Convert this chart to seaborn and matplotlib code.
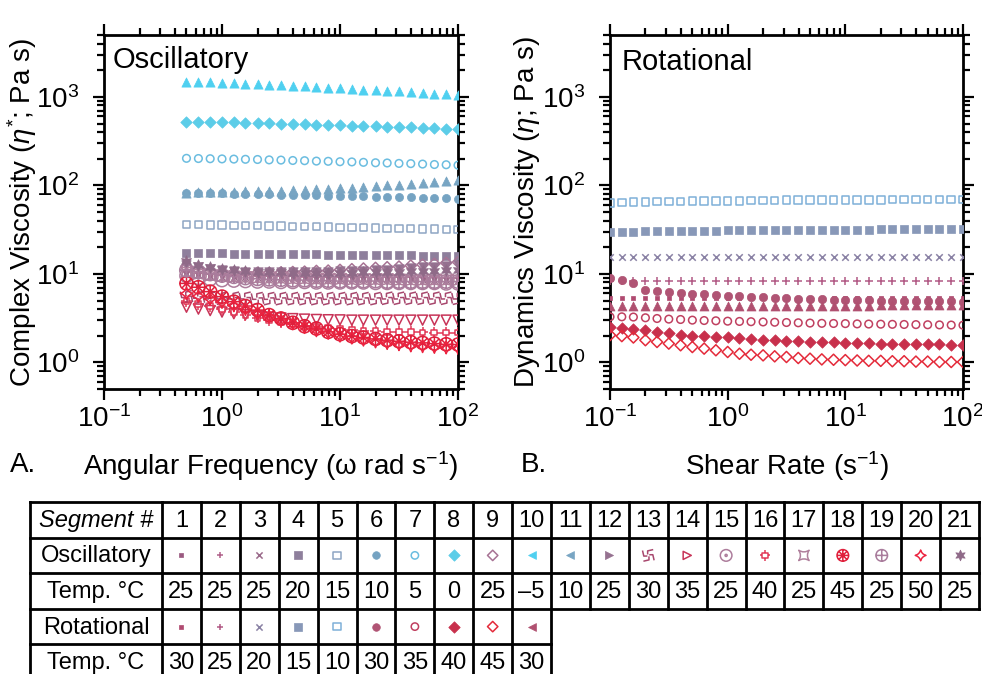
import numpy as np
import pandas as pd
import matplotlib
matplotlib.use("Agg")
import matplotlib.pyplot as plt
from matplotlib.path import Path
from matplotlib.ticker import LogLocator, NullFormatter
import seaborn as sns

# ---------------- data ----------------
omega = [0.5, 0.631, 0.794, 1.0, 1.26, 1.58, 2.0, 2.51, 3.16, 3.98, 5.01, 6.31,
         7.94, 10.0, 12.6, 15.8, 20.0, 25.1, 31.6, 39.8, 50.1, 63.1, 79.4, 100.0]
shear = [0.1, 0.126, 0.158, 0.2, 0.251, 0.316, 0.398, 0.501, 0.631, 0.794, 1.0,
         1.26, 1.58, 2.0, 2.51, 3.16, 3.98, 5.01, 6.31, 7.94, 10.0, 12.6, 15.8,
         20.0, 25.1, 31.6, 39.8, 50.1, 63.1, 79.4, 100.0]

osc_01 = [10.2, 9.9, 9.7, 9.6, 9.5, 9.4, 9.4, 9.3, 9.3, 9.2, 9.2, 9.2, 9.1, 9.1, 9.1, 9.0, 9.0, 9.0, 9.0, 9.0, 8.9, 8.9, 8.9, 8.9]
osc_02 = [10.5, 10.2, 10.0, 9.8, 9.7, 9.6, 9.5, 9.5, 9.4, 9.4, 9.3, 9.3, 9.3, 9.2, 9.2, 9.2, 9.2, 9.1, 9.1, 9.1, 9.1, 9.1, 9.0, 9.0]
osc_03 = [10.0, 9.7, 9.5, 9.3, 9.2, 9.1, 9.0, 9.0, 8.9, 8.9, 8.9, 8.8, 8.8, 8.8, 8.8, 8.7, 8.7, 8.7, 8.7, 8.7, 8.6, 8.6, 8.6, 8.6]
osc_04 = [17.2, 17.1, 17.0, 17.0, 16.9, 16.9, 16.8, 16.8, 16.7, 16.7, 16.6, 16.6, 16.5, 16.5, 16.4, 16.4, 16.3, 16.3, 16.2, 16.2, 16.1, 16.0, 16.0, 15.9]
osc_05 = [36.0, 36.0, 35.8, 35.6, 35.4, 35.2, 35.0, 34.8, 34.6, 34.4, 34.2, 34.0, 33.8, 33.6, 33.4, 33.2, 33.0, 32.8, 32.6, 32.4, 32.2, 32.0, 31.8, 31.6]
osc_06 = [82, 82, 81, 81, 80, 80, 79, 79, 78, 78, 77, 77, 76, 76, 75, 75, 74, 74, 73, 73, 72, 72, 71.5, 71]
osc_07 = [202, 201, 200, 199, 198, 197, 196, 194, 193, 191, 190, 188, 187, 185, 184, 182, 180, 179, 177, 176, 174, 172, 171, 169]
osc_08 = [525, 522, 520, 517, 514, 510, 506, 502, 498, 494, 490, 486, 482, 478, 474, 470, 466, 462, 458, 454, 448, 443, 438, 433]
osc_09 = [11.8, 11.2, 10.8, 10.6, 10.4, 10.3, 10.3, 10.3, 10.4, 10.5, 10.6, 10.8, 10.9, 11.1, 11.3, 11.5, 11.7, 11.9, 12.1, 12.4, 12.7, 13.0, 13.3, 13.6]
osc_10 = [1470, 1480, 1460, 1440, 1420, 1400, 1390, 1370, 1350, 1330, 1310, 1290, 1270, 1250, 1230, 1210, 1190, 1170, 1150, 1130, 1110, 1090, 1075, 1060]
osc_11 = [83, 83.5, 84, 84.5, 85, 85.5, 86, 86.5, 87, 88, 89, 90, 91.5, 93, 94.5, 96.5, 98, 100, 102, 104, 106, 109, 112, 115]
osc_12 = [12.5, 11.8, 11.3, 11.0, 10.8, 10.6, 10.5, 10.4, 10.4, 10.4, 10.4, 10.5, 10.6, 10.7, 10.8, 10.9, 11.1, 11.2, 11.4, 11.6, 11.8, 12.0, 12.2, 12.5]
osc_13 = [5.5, 5.4, 5.3, 5.3, 5.3, 5.3, 5.25, 5.25, 5.25, 5.25, 5.25, 5.25, 5.25, 5.25, 5.25, 5.25, 5.25, 5.3, 5.3, 5.3, 5.3, 5.3, 5.3, 5.3]
osc_14 = [4.2, 4.0, 3.85, 3.7, 3.55, 3.45, 3.35, 3.25, 3.17, 3.12, 3.08, 3.05, 3.03, 3.02, 3.0, 3.0, 3.0, 3.0, 3.0, 3.0, 3.0, 3.0, 3.0, 3.0]
osc_15 = [9.5, 9.0, 8.7, 8.5, 8.4, 8.3, 8.2, 8.2, 8.1, 8.1, 8.1, 8.0, 8.0, 8.0, 8.0, 8.0, 7.9, 7.9, 7.9, 7.9, 7.9, 7.9, 7.8, 7.8]
osc_16 = [4.9, 4.6, 4.3, 4.0, 3.7, 3.45, 3.2, 3.0, 2.85, 2.7, 2.6, 2.5, 2.42, 2.36, 2.3, 2.27, 2.24, 2.22, 2.2, 2.19, 2.18, 2.17, 2.17, 2.17]
osc_17 = [10.5, 10.0, 9.6, 9.4, 9.2, 9.1, 9.0, 8.9, 8.9, 8.8, 8.8, 8.7, 8.7, 8.7, 8.6, 8.6, 8.6, 8.6, 8.5, 8.5, 8.5, 8.5, 8.5, 8.5]
osc_18 = [7.8, 7.06, 6.3, 5.53, 4.85, 4.33, 3.9, 3.42, 3.13, 2.8, 2.56, 2.41, 2.21, 2.08, 1.98, 1.91, 1.84, 1.78, 1.73, 1.69, 1.66, 1.63, 1.6, 1.59]
osc_19 = [11.0, 10.6, 10.0, 9.6, 9.3, 9.0, 8.8, 8.7, 8.6, 8.5, 8.5, 8.4, 8.4, 8.3, 8.3, 8.3, 8.3, 8.2, 8.2, 8.2, 8.2, 8.2, 8.2, 8.2]
osc_20 = [6.0, 5.6, 5.2, 4.8, 4.4, 4.0, 3.6, 3.3, 3.0, 2.75, 2.5, 2.3, 2.15, 2.0, 1.9, 1.8, 1.72, 1.65, 1.6, 1.55, 1.52, 1.49, 1.47, 1.45]
osc_21 = [13.8, 12.5, 11.8, 11.3, 11.0, 10.8, 10.6, 10.5, 10.4, 10.3, 10.3, 10.3, 10.3, 10.3, 10.3, 10.4, 10.4, 10.5, 10.6, 10.7, 10.8, 10.9, 11.0, 11.1]

rot_01 = [5.3, 5.3, 5.3, 5.3, 5.3, 5.3, 5.3, 5.3, 5.3, 5.3, 5.3, 5.3, 5.3, 5.3, 5.3, 5.3, 5.3, 5.3, 5.3, 5.3, 5.3, 5.3, 5.3, 5.3, 5.3, 5.3, 5.3, 5.3, 5.3, 5.3, 5.3]
rot_02 = [8.2, 8.2, 8.2, 8.2, 8.2, 8.2, 8.2, 8.2, 8.2, 8.2, 8.2, 8.2, 8.2, 8.2, 8.2, 8.2, 8.2, 8.2, 8.2, 8.2, 8.2, 8.2, 8.2, 8.2, 8.2, 8.2, 8.2, 8.2, 8.2, 8.2, 8.2]
rot_03 = [15.5, 15.5, 15.5, 15.5, 15.5, 15.5, 15.5, 15.5, 15.5, 15.5, 15.5, 15.5, 15.5, 15.5, 15.5, 15.5, 15.5, 15.5, 15.5, 15.5, 15.5, 15.5, 15.5, 15.5, 15.5, 15.5, 15.5, 15.5, 15.5, 15.5, 15.5]
rot_04 = [30.0, 30.0, 30.1, 30.2, 30.3, 30.4, 30.5, 30.6, 30.7, 30.8, 30.9, 31.0, 31.0, 31.1, 31.2, 31.3, 31.3, 31.4, 31.5, 31.5, 31.6, 31.7, 31.7, 31.8, 31.8, 31.9, 31.9, 32.0, 32.0, 32.0, 32.1]
rot_05 = [63.5, 64, 64.5, 65, 65.5, 66, 66, 66.5, 66.5, 67, 67, 67, 67.5, 67.5, 67.5, 68, 68, 68, 68, 68.5, 68.5, 68.5, 68.5, 68.5, 69, 69, 69, 69, 69, 69, 69]
rot_06 = [9.08, 8.55, 7.97, 6.58, 6.41, 6.24, 6.08, 5.98, 5.87, 5.77, 5.67, 5.58, 5.53, 5.43, 5.38, 5.29, 5.24, 5.2, 5.15, 5.11, 5.06, 5.02, 5.02, 4.98, 4.98, 4.93, 4.93, 4.89, 4.89, 4.89, 4.85]
rot_07 = [3.27, 3.27, 3.25, 3.19, 3.13, 3.08, 3.05, 3.0, 2.97, 2.95, 2.92, 2.9, 2.88, 2.86, 2.84, 2.82, 2.8, 2.78, 2.76, 2.75, 2.74, 2.72, 2.71, 2.7, 2.69, 2.68, 2.67, 2.66, 2.65, 2.64, 2.63]
rot_08 = [2.48, 2.46, 2.39, 2.31, 2.21, 2.12, 2.06, 2.01, 1.98, 1.94, 1.91, 1.87, 1.84, 1.81, 1.78, 1.76, 1.75, 1.72, 1.7, 1.69, 1.67, 1.66, 1.64, 1.63, 1.63, 1.62, 1.62, 1.6, 1.6, 1.59, 1.59]
rot_09 = [2.03, 1.98, 1.91, 1.78, 1.7, 1.63, 1.56, 1.49, 1.43, 1.37, 1.31, 1.25, 1.22, 1.2, 1.17, 1.15, 1.12, 1.1, 1.08, 1.07, 1.06, 1.05, 1.04, 1.04, 1.03, 1.03, 1.02, 1.02, 1.01, 1.01, 1.01]
rot_10 = [4.3, 4.3, 4.3, 4.3, 4.3, 4.3, 4.3, 4.3, 4.3, 4.3, 4.3, 4.32, 4.32, 4.32, 4.34, 4.34, 4.34, 4.36, 4.36, 4.36, 4.38, 4.38, 4.38, 4.4, 4.4, 4.4, 4.4, 4.4, 4.4, 4.4, 4.4]

segments = list(range(1, 22))
osc_temps = ["25", "25", "25", "20", "15", "10", "5", "0", "25", "\u20135", "10",
             "25", "30", "35", "25", "40", "25", "45", "25", "50", "25"]
rot_temps = ["30", "25", "20", "15", "10", "30", "35", "40", "45", "30"]
row_labels = ["Segment #", "Oscillatory", "Temp. \u00b0C", "Rotational", "Temp. \u00b0C"]

osc_series = [osc_01, osc_02, osc_03, osc_04, osc_05, osc_06, osc_07, osc_08, osc_09, osc_10,
              osc_11, osc_12, osc_13, osc_14, osc_15, osc_16, osc_17, osc_18, osc_19, osc_20, osc_21]
rot_series = [rot_01, rot_02, rot_03, rot_04, rot_05, rot_06, rot_07, rot_08, rot_09, rot_10]

# ---------------- custom marker shapes ----------------
def _lines(segs):
    v, c = [], []
    for a, b in segs:
        v += [a, b]
        c += [Path.MOVETO, Path.LINETO]
    return Path(v, c)

def _polyline(pts):
    return Path(pts, [Path.MOVETO] + [Path.LINETO] * (len(pts) - 1))

circ = Path.circle((0, 0), 1.0)
m_oplus = Path.make_compound_path(circ, _lines([((-1, 0), (1, 0)), ((0, -1), (0, 1))]))
m_odot = Path.make_compound_path(circ, Path.circle((0, 0), 0.18))
ang = np.deg2rad([0, 45, 90, 135])
m_oast = Path.make_compound_path(circ, _lines([((np.cos(a), np.sin(a)), (-np.cos(a), -np.sin(a))) for a in ang]),
                                 Path.circle((0, 0), 0.15))
sq = Path([(-0.5, -0.5), (0.5, -0.5), (0.5, 0.5), (-0.5, 0.5), (-0.5, -0.5)],
          [Path.MOVETO, Path.LINETO, Path.LINETO, Path.LINETO, Path.CLOSEPOLY])
m_crosssq = Path.make_compound_path(sq, _lines([((0.5, 0), (1, 0)), ((-0.5, 0), (-1, 0)),
                                                ((0, 0.5), (0, 1)), ((0, -0.5), (0, -1))]))
m_concave = Path([(-1, 1), (0, 0.35), (1, 1), (0.35, 0), (1, -1), (0, -0.35), (-1, -1), (-0.35, 0), (-1, 1), (-1, 1)],
                 [Path.MOVETO, Path.CURVE3, Path.CURVE3, Path.CURVE3, Path.CURVE3, Path.CURVE3, Path.CURVE3,
                  Path.CURVE3, Path.CURVE3, Path.CLOSEPOLY])
m_star4 = Path([(0, 1), (0.22, 0.22), (1, 0), (0.22, -0.22), (0, -1), (-0.22, -0.22), (-1, 0), (-0.22, 0.22), (0, 1), (0, 1)],
               [Path.MOVETO, Path.CURVE3, Path.CURVE3, Path.CURVE3, Path.CURVE3, Path.CURVE3, Path.CURVE3,
                Path.CURVE3, Path.CURVE3, Path.CLOSEPOLY])
pw = []
for a in np.deg2rad([90, 0, 270, 180]):
    p1 = (0.15 * np.cos(a + 0.6), 0.15 * np.sin(a + 0.6))
    pm = (0.6 * np.cos(a + 0.15), 0.6 * np.sin(a + 0.15))
    p2 = (np.cos(a - 0.7), np.sin(a - 0.7))
    pw.append(_polyline([p1, pm, p2]))
m_pinwheel = Path.make_compound_path(*pw)

# style per segment: (plot marker, table marker, colour, kind, plot size, table size)
# kind: "f" filled, "o" open outline, "l" line marker (+, x)
osc_style = [
    ("s", "s", "#9a5a80", "f", 5, 5),
    ("+", "+", "#b0608a", "l", 30, 24),
    ("x", "x", "#9a6a8a", "l", 22, 20),
    ("s", "s", "#8e7f9c", "f", 30, 34),
    ("s", "s", "#8ea6c4", "o", 28, 28),
    ("o", "o", "#75a3c2", "f", 34, 30),
    ("o", "o", "#6bbde0", "o", 30, 28),
    ("D", "D", "#5ccde8", "f", 34, 34),
    ("D", "D", "#a77394", "o", 32, 28),
    ("^", "<", "#4fd0f0", "f", 44, 32),
    ("^", "<", "#78a5c3", "f", 44, 32),
    ("v", ">", "#957190", "f", 46, 34),
    (m_pinwheel, m_pinwheel, "#a8486e", "o", 80, 70),
    ("v", ">", "#c83458", "o", 52, 34),
    (m_odot, m_odot, "#ad7d9c", "o", 90, 70),
    (m_crosssq, m_crosssq, "#e23a58", "o", 70, 55),
    (m_concave, m_concave, "#b0809c", "o", 70, 55),
    (m_oast, m_oast, "#e0203c", "o", 90, 70),
    (m_oplus, m_oplus, "#a97c9c", "o", 95, 70),
    (m_star4, m_star4, "#ec2440", "o", 80, 60),
    ((6, 1, 0), (6, 1, 0), "#8f6a88", "f", 70, 60),
]
rot_style = [
    ("s", "s", "#b04a70", "f", 6, 5),
    ("+", "+", "#b25a85", "l", 30, 24),
    ("x", "x", "#8a82a5", "l", 22, 20),
    ("s", "s", "#8898b8", "f", 30, 34),
    ("s", "s", "#7fb0d8", "o", 30, 28),
    ("o", "o", "#b05474", "f", 36, 30),
    ("o", "o", "#c04060", "o", 30, 28),
    ("D", "D", "#c8304c", "f", 34, 34),
    ("D", "D", "#e42a3a", "o", 32, 28),
    ("^", "<", "#b05070", "f", 42, 32),
]

# ---------------- style ----------------
sns.set_theme(style="ticks")
plt.rcParams["font.family"] = ["Liberation Sans", "DejaVu Sans"]
plt.rcParams["mathtext.fontset"] = "custom"
plt.rcParams["mathtext.rm"] = "Liberation Sans"
plt.rcParams["mathtext.it"] = "Liberation Sans:italic"
plt.rcParams["mathtext.bf"] = "Liberation Sans:bold"
plt.rcParams["axes.linewidth"] = 2.0
for key in ("text.color", "axes.labelcolor", "xtick.color", "ytick.color", "axes.edgecolor"):
    plt.rcParams[key] = "black"

fig = plt.figure(figsize=(9.82, 6.74), dpi=100)
W, H = 982, 674

def px_axes(x0, y0, x1, y1):
    return fig.add_axes([x0 / W, (H - y1) / H, (x1 - x0) / W, (y1 - y0) / H])

ax1 = px_axes(104, 35, 458, 389)
ax2 = px_axes(610, 35, 963, 389)


def draw(ax, x, y, marker, color, kind, size):
    if kind == "f":
        sns.scatterplot(x=x, y=y, ax=ax, marker=marker, s=size, color=color,
                        edgecolor=color, linewidth=0.5, zorder=3)
    elif kind == "l":
        sns.scatterplot(x=x, y=y, ax=ax, marker=marker, s=size, color=color,
                        linewidth=1.1, zorder=3)
    else:
        sns.scatterplot(x=x, y=y, ax=ax, marker=marker, s=size, color=color,
                        facecolor="none", edgecolor=color, linewidth=1.1, zorder=3)


for yv, st in zip(osc_series, osc_style):
    draw(ax1, omega, yv, st[0], st[2], st[3], st[4])
for yv, st in zip(rot_series, rot_style):
    draw(ax2, shear, yv, st[0], st[2], st[3], st[4])

for ax in (ax1, ax2):
    ax.set_xscale("log")
    ax.set_yscale("log")
    ax.set_xlim(0.1, 100)
    ax.set_ylim(0.5, 5000)
    ax.xaxis.set_major_locator(LogLocator(base=10, numticks=10))
    ax.yaxis.set_major_locator(LogLocator(base=10, numticks=10))
    ax.xaxis.set_minor_locator(LogLocator(base=10, subs=np.arange(2, 10), numticks=30))
    ax.yaxis.set_minor_locator(LogLocator(base=10, subs=np.arange(2, 10), numticks=30))
    ax.xaxis.set_minor_formatter(NullFormatter())
    ax.yaxis.set_minor_formatter(NullFormatter())
    ax.tick_params(which="both", direction="out", top=True, right=True, width=1.6, colors="black")
    ax.tick_params(which="major", length=8, labelsize=20)
    ax.tick_params(axis="y", which="major", pad=10)
    ax.tick_params(which="minor", length=5)
    for sp in ax.spines.values():
        sp.set_visible(True)
        sp.set_linewidth(2.0)
        sp.set_color("black")

ax1.set_ylabel(r"Complex Viscosity ($\mathit{\eta}^{*}$; Pa s)", fontsize=20)
ax2.set_ylabel(r"Dynamics Viscosity ($\mathit{\eta}$; Pa s)", fontsize=20)
ax1.set_xlabel(r"Angular Frequency ($\mathrm{\omega}$ rad s$^{-1}$)", fontsize=20)
ax2.set_xlabel(r"Shear Rate (s$^{-1}$)", fontsize=20)
ax1.yaxis.set_label_coords(-0.184, 0.5)
ax2.yaxis.set_label_coords(-0.193, 0.5)
ax1.xaxis.set_label_coords(0.47, -0.17)
ax2.xaxis.set_label_coords(0.5, -0.17)

ax1.text(0.023, 0.907, "Oscillatory", transform=ax1.transAxes, fontsize=21, va="baseline", ha="left")
ax2.text(0.033, 0.90, "Rotational", transform=ax2.transAxes, fontsize=21, va="baseline", ha="left")
fig.text(10 / W, 1 - 472 / H, "A.", fontsize=20, va="baseline", ha="left")
fig.text(521 / W, 1 - 472 / H, "B.", fontsize=20, va="baseline", ha="left")

# ---------------- table ----------------
tx0, tx1 = 30, 979
ty0, rh = 502, 35.6
first_w = 132
cw = (tx1 - tx0 - first_w) / 21
tab = px_axes(tx0, ty0, tx1, ty0 + 5 * rh)
tab.set_xlim(0, tx1 - tx0)
tab.set_ylim(5 * rh, 0)
tab.axis("off")

lw = 2.0
full_w = tx1 - tx0
short_w = first_w + 10 * cw
for i in range(6):
    xe = full_w if i <= 3 else short_w
    tab.plot([0, xe], [i * rh, i * rh], color="black", lw=lw, solid_capstyle="projecting", clip_on=False)
for k in range(23):
    xb = 0 if k == 0 else first_w + (k - 1) * cw
    yb = 5 * rh if (k - 1) <= 10 else 3 * rh
    tab.plot([xb, xb], [0, yb], color="black", lw=lw, solid_capstyle="projecting", clip_on=False)

for i, lab in enumerate(row_labels):
    tab.text(first_w / 2, (i + 0.5) * rh + 1, lab, fontsize=17, ha="center", va="center",
             style="italic" if i == 0 else "normal")


def ccx(j):
    return first_w + (j + 0.5) * cw


for j, s in enumerate(segments):
    tab.text(ccx(j), 0.5 * rh + 1, str(s), fontsize=17, ha="center", va="center")
for j, t in enumerate(osc_temps):
    tab.text(ccx(j), 2.5 * rh + 1, t, fontsize=17, ha="center", va="center")
for j, t in enumerate(rot_temps):
    tab.text(ccx(j), 4.5 * rh + 1, t, fontsize=17, ha="center", va="center")

for j, st in enumerate(osc_style):
    draw(tab, [ccx(j)], [1.5 * rh], st[1], st[2], st[3], st[5])
for j, st in enumerate(rot_style):
    draw(tab, [ccx(j)], [3.5 * rh], st[1], st[2], st[3], st[5])
tab.set_xlim(0, tx1 - tx0)
tab.set_ylim(5 * rh, 0)

fig.savefig("out.png", dpi=100)
